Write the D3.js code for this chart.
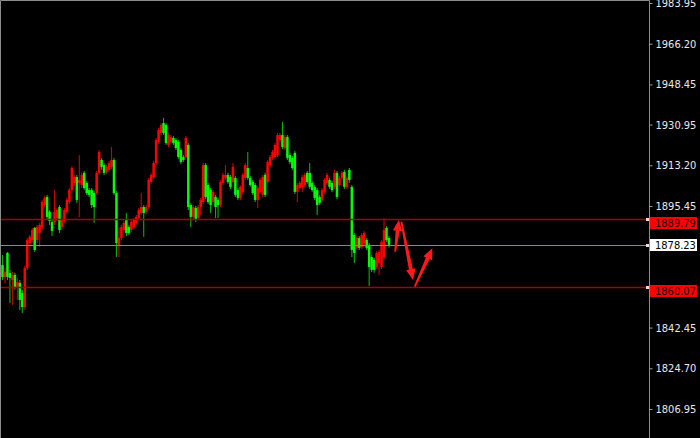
<!DOCTYPE html>
<html>
<head>
<meta charset="utf-8">
<script src="https://cdn.jsdelivr.net/npm/d3@7/dist/d3.min.js"></script>
<style>
html,body{margin:0;padding:0;background:#000;}
svg{display:block;}
</style>
</head>
<body>
<svg id="chart" width="700" height="438"></svg>
<script>
// ---- data ----
const opens = [1869.7,1864.5,1875.0,1866.3,1863.2,1865.4,1860.2,1861.9,1857.5,1851.4,
1868.4,1879.3,1880.6,1885.9,1880.6,1883.7,1886.3,1895.9,1899.4,1892.9,
1888.5,1888.5,1890.2,1895.0,1886.3,1888.9,1892.9,1897.2,1902.4,1905.5,
1908.1,1905.5,1904.6,1909.9,1905.5,1902.4,1902.4,1901.1,1901.1,1909.9,
1915.5,1913.3,1910.3,1911.2,1912.5,1915.5,1901.1,1878.5,1881.5,1885.0,
1889.4,1886.3,1885.0,1886.3,1888.1,1890.2,1892.4,1895.0,1892.9,1895.0,
1905.9,1908.1,1914.2,1923.4,1927.3,1931.6,1930.8,1922.1,1923.4,1925.1,
1924.2,1923.4,1919.9,1916.8,1916.8,1922.1,1895.9,1890.7,1894.6,1890.2,
1895.0,1897.2,1913.3,1904.6,1902.4,1897.2,1899.4,1898.1,1895.9,1905.5,
1907.7,1909.0,1908.1,1905.9,1907.7,1902.4,1899.0,1901.6,1907.7,1912.0,
1907.7,1905.9,1904.6,1898.1,1901.6,1900.3,1909.0,1905.9,1913.3,1916.4,
1916.8,1917.7,1924.2,1926.4,1920.7,1925.5,1917.7,1916.4,1918.6,1901.6,
1903.3,1903.8,1904.6,1909.9,1909.9,1905.5,1903.8,1902.4,1899.4,1898.1,
1901.6,1905.5,1906.8,1905.5,1903.8,1909.9,1904.6,1907.7,1910.3,1903.8,
1911.2,1903.8,1882.8,1877.2,1881.5,1877.6,1879.3,1880.6,1878.5,1873.2,
1871.9,1868.9,1870.6,1868.9,1873.2,1885.9,1881.5];
const highs = [1874.1,1868.4,1875.4,1867.6,1866.7,1866.3,1864.1,1863.2,1858.9,1869.3,
1881.5,1882.8,1885.9,1886.3,1887.2,1888.1,1898.1,1899.8,1900.3,1893.7,
1889.4,1902.4,1894.6,1895.9,1891.1,1894.6,1899.0,1903.3,1912.9,1909.0,
1909.0,1917.7,1909.9,1910.7,1906.4,1903.3,1903.3,1902.0,1910.7,1919.9,
1916.4,1914.2,1913.3,1915.1,1921.2,1916.4,1902.0,1886.3,1887.2,1888.9,
1892.4,1887.2,1889.4,1890.2,1891.5,1894.6,1901.1,1895.9,1895.9,1907.7,
1909.9,1915.1,1925.1,1929.5,1931.6,1933.8,1931.6,1927.3,1926.4,1926.0,
1925.1,1924.2,1920.7,1917.7,1926.0,1922.9,1896.8,1895.9,1895.5,1895.9,
1899.0,1914.2,1914.2,1905.5,1903.3,1902.4,1900.3,1899.0,1906.8,1909.9,
1913.3,1909.9,1909.0,1914.2,1908.5,1903.3,1904.6,1909.9,1914.2,1919.0,
1908.5,1906.8,1905.5,1904.2,1907.7,1909.0,1909.9,1915.5,1917.7,1919.9,
1922.9,1927.3,1927.3,1932.1,1926.4,1926.4,1918.6,1917.3,1919.4,1905.5,
1906.4,1909.0,1909.9,1910.7,1914.2,1906.4,1904.6,1903.3,1900.3,1903.3,
1907.7,1909.9,1907.7,1906.4,1911.2,1910.7,1908.5,1910.7,1911.2,1908.5,
1912.0,1904.6,1883.7,1882.4,1882.4,1883.7,1884.6,1881.5,1879.3,1874.1,
1872.8,1875.8,1876.3,1880.6,1890.2,1886.7,1882.4];
const lows = [1863.2,1861.9,1863.2,1853.2,1852.3,1858.9,1854.5,1850.1,1848.8,1850.1,
1867.6,1878.0,1879.8,1875.4,1879.3,1877.6,1885.4,1895.0,1889.8,1887.2,
1882.4,1887.2,1888.9,1883.7,1885.0,1888.1,1892.0,1896.3,1901.6,1904.2,
1896.8,1890.7,1903.3,1902.4,1900.3,1899.4,1894.6,1888.1,1900.3,1909.0,
1911.2,1909.0,1909.4,1910.3,1911.6,1900.3,1873.2,1873.2,1880.6,1884.1,
1882.4,1882.8,1884.1,1885.4,1887.2,1889.4,1891.5,1882.0,1892.0,1894.2,
1905.1,1907.2,1913.3,1922.5,1926.4,1926.4,1922.1,1921.2,1922.5,1922.1,
1919.9,1916.0,1913.8,1914.6,1916.0,1893.7,1886.3,1889.8,1888.5,1889.4,
1891.5,1896.3,1898.5,1896.3,1892.4,1896.3,1890.2,1890.2,1895.0,1904.6,
1906.8,1905.1,1902.9,1905.1,1899.4,1898.1,1898.1,1900.7,1906.8,1906.8,
1903.8,1900.3,1897.2,1894.6,1900.7,1899.4,1899.4,1905.1,1912.5,1915.5,
1916.0,1916.8,1923.4,1920.3,1919.9,1915.5,1913.8,1911.2,1900.7,1897.2,
1902.4,1901.6,1903.8,1905.1,1902.9,1901.6,1898.1,1891.5,1895.9,1897.2,
1900.7,1904.6,1902.9,1901.6,1902.9,1898.5,1903.8,1906.8,1902.9,1902.9,
1905.5,1873.2,1870.6,1876.3,1876.3,1876.7,1878.5,1876.3,1860.6,1866.7,
1866.3,1868.0,1865.4,1868.0,1872.4,1879.8,1877.2];
const closes = [1864.5,1866.7,1864.5,1864.1,1865.4,1860.2,1862.3,1854.5,1851.4,1868.4,
1880.6,1882.0,1885.0,1876.3,1886.3,1887.2,1897.2,1899.0,1890.7,1888.9,
1884.6,1892.9,1893.7,1885.0,1889.4,1893.7,1898.1,1902.4,1912.0,1908.1,
1898.1,1906.8,1909.0,1903.3,1901.1,1900.3,1895.9,1895.0,1909.9,1919.0,
1912.5,1909.9,1912.5,1914.2,1915.5,1901.1,1879.3,1881.5,1886.3,1888.1,
1883.7,1883.7,1888.5,1889.4,1890.7,1893.7,1895.0,1892.4,1895.0,1906.8,
1909.0,1914.2,1924.2,1928.6,1930.8,1927.3,1922.9,1926.4,1925.5,1922.9,
1920.7,1916.8,1914.6,1915.5,1925.1,1895.0,1890.7,1895.0,1889.4,1895.0,
1898.1,1913.3,1899.4,1897.2,1895.9,1901.6,1895.0,1895.9,1905.9,1909.0,
1909.0,1905.9,1903.8,1912.5,1900.3,1899.0,1903.8,1909.0,1913.3,1907.7,
1904.6,1901.1,1898.1,1903.3,1906.8,1908.1,1900.3,1914.6,1916.8,1919.0,
1922.1,1926.4,1926.4,1921.2,1925.5,1916.4,1914.6,1912.0,1901.6,1904.6,
1905.5,1908.1,1909.0,1905.9,1903.8,1902.4,1899.0,1895.9,1896.8,1902.4,
1906.8,1909.0,1903.8,1902.4,1909.9,1899.4,1907.7,1909.9,1903.8,1907.7,
1906.8,1876.3,1875.0,1881.5,1877.2,1882.8,1883.7,1877.2,1868.9,1867.6,
1867.6,1875.0,1875.4,1879.8,1885.0,1880.6,1878.5];

const tickValues = [1983.95,1966.20,1948.45,1930.95,1913.20,1895.45,1842.45,1824.70,1806.95];
const redLevels = [1889.79, 1860.07];
const grayLevels = [1878.23];
// arrows in (bar index, price) space
const arrowFrom = [[158.5,1875.5],[161,1888.6],[166.4,1860.3]];
const arrowTo   = [[160,1889.4],[165.7,1863.2],[173.5,1877.0]];

// ---- layout ----
const W = 700, H = 438, plotRight = 649;
const svg = d3.select("#chart");
const n = opens.length;
const x = d3.scaleLinear().domain([0, n - 1]).range([2.5, 389]);
const y = d3.scaleLinear().domain([1806.95, 1983.95]).range([409, 3]);

svg.append("rect").attr("width", W).attr("height", H).attr("fill", "#000");

// border
svg.append("path")
  .attr("d", `M0.5,${H} V0.5 H${plotRight + 0.5} V${H}`)
  .attr("fill", "none").attr("stroke", "#8c8c8c").attr("stroke-width", 1);

// candles
const idx = d3.range(n);
const cg = svg.append("g");
cg.selectAll("line.wick").data(idx).join("line")
  .attr("class", "wick")
  .attr("x1", i => x(i)).attr("x2", i => x(i))
  .attr("y1", i => y(highs[i])).attr("y2", i => y(lows[i]))
  .attr("stroke", i => closes[i] >= opens[i] ? "#c80000" : "#00b400")
  .attr("stroke-width", 1.1);
cg.selectAll("rect.body").data(idx).join("rect")
  .attr("class", "body")
  .attr("x", i => x(i) - 1.25)
  .attr("width", 2.5)
  .attr("y", i => y(Math.max(opens[i], closes[i])))
  .attr("height", i => Math.max(1, Math.abs(y(opens[i]) - y(closes[i]))))
  .attr("fill", i => closes[i] >= opens[i] ? "#ff0000" : "#00ff00");

// level lines (foreground)
const g = svg.append("g");
redLevels.forEach(v => {
  const yy = Math.round(y(v)) + 0.5;
  g.append("line").attr("x1", 1).attr("x2", plotRight).attr("y1", yy).attr("y2", yy)
    .attr("stroke", "#a80000").attr("stroke-width", 1.3);
});
grayLevels.forEach(v => {
  const yy = Math.round(y(v)) + 0.5;
  g.append("line").attr("x1", 1).attr("x2", plotRight).attr("y1", yy).attr("y2", yy)
    .attr("stroke", "#7d8a99").attr("stroke-width", 1);
});

// arrows
function arrowPath(f, t) {
  const T = [x(f[0]), y(f[1])], P = [x(t[0]), y(t[1])];
  const dx = P[0] - T[0], dy = P[1] - T[1], L = Math.hypot(dx, dy);
  const u = [dx / L, dy / L], nr = [-u[1], u[0]];
  const hl = 11, hw = 4.8, sw0 = 0.9, sw1 = 2.0;
  const B = [P[0] - u[0] * hl, P[1] - u[1] * hl];
  const pt = (p, k) => [p[0] + nr[0] * k, p[1] + nr[1] * k];
  const pts = [pt(T, sw0), pt(B, sw1), pt(B, hw), P, pt(B, -hw), pt(B, -sw1), pt(T, -sw0)];
  return "M" + pts.map(p => p[0].toFixed(2) + "," + p[1].toFixed(2)).join("L") + "Z";
}
arrowFrom.forEach((f, k) => {
  svg.append("path").attr("d", arrowPath(f, arrowTo[k])).attr("fill", "#ff1a1a");
});

// axis
const axis = d3.axisRight(y).tickValues(tickValues).tickFormat(d3.format(".2f"))
  .tickSize(3).tickPadding(3);
const ag = svg.append("g").attr("transform", `translate(${plotRight + 0.5},0)`).call(axis);
ag.select(".domain").remove();
ag.selectAll(".tick line").attr("stroke", "#9a9a9a");
ag.selectAll(".tick text").attr("fill", "#e8e8e8")
  .style("font-family", "'DejaVu Sans Condensed','DejaVu Sans',sans-serif")
  .style("font-size", "11px");

// level labels
function levelLabel(v, bg, fg, offTop) {
  const yy = Math.round(y(v));
  const top = yy - offTop;
  svg.append("rect").attr("x", plotRight + 1).attr("y", top).attr("width", 47).attr("height", 12).attr("fill", bg);
  svg.append("text").attr("x", plotRight + 6).attr("y", top + 10)
    .attr("fill", fg)
    .style("font-family", "'DejaVu Sans Condensed','DejaVu Sans',sans-serif")
    .style("font-size", "11px")
    .text(d3.format(".2f")(v));
  svg.append("rect").attr("x", plotRight - 3).attr("y", yy - 1).attr("width", 3).attr("height", 3).attr("fill", "#ffd6d6");
}
redLevels.forEach(v => levelLabel(v, "#ff0000", "#1a0000", 2));
grayLevels.forEach(v => levelLabel(v, "#ffffff", "#000000", 6));
</script>
</body>
</html>
